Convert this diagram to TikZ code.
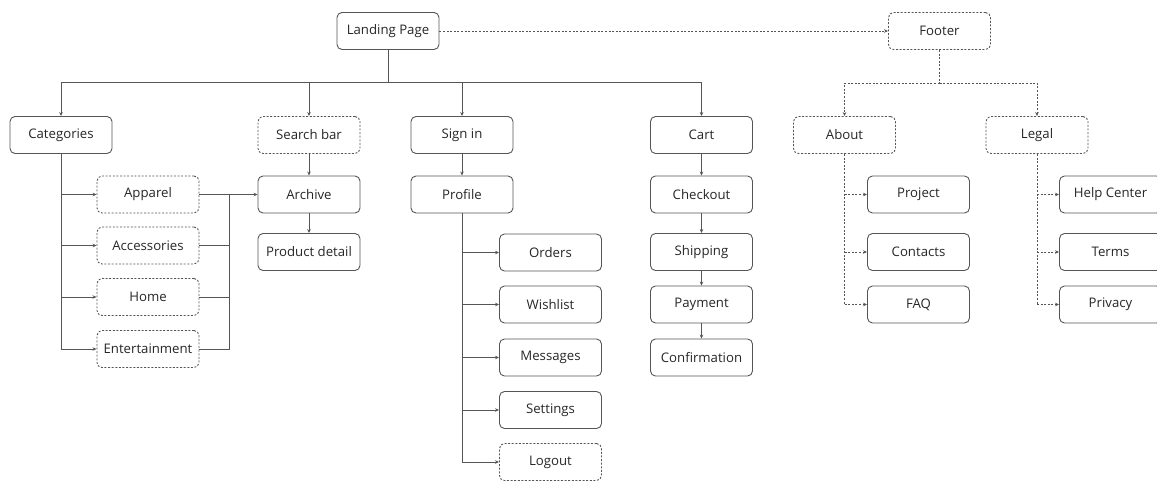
\documentclass[tikz,border=0pt]{standalone}
\usepackage{fontspec}
\setmainfont{Open Sans}
\usetikzlibrary{arrows.meta}
\definecolor{ln}{HTML}{555555}
\definecolor{tx}{HTML}{262626}
\tikzset{
  box/.style={draw=ln, line width=0.9pt, rounded corners=5pt, minimum width=102pt, minimum height=37pt, inner sep=0pt, text=tx, font=\fontsize{13.2}{15}\selectfont},
  dbox/.style={box, dash pattern=on 2pt off 1.6pt},
  conn/.style={draw=ln, line width=0.9pt},
  arr/.style={conn, -{Stealth[length=4pt,width=3.5pt]}},
  darr/.style={arr, dash pattern=on 2pt off 1.6pt},
  dconn/.style={conn, dash pattern=on 2pt off 1.6pt},
}
\begin{document}
\begin{tikzpicture}[x=1pt,y=-1pt]
\useasboundingbox (0,0) rectangle (1157,482);
% top
\node[box] (land) at (388,31) {Landing Page};
\node[dbox] (foot) at (939.5,31) {Footer};
% row 1
\node[box] (cat) at (61,135) {Categories};
\node[dbox] (search) at (309,135) {Search bar};
\node[box] (sign) at (462,135) {Sign in};
\node[box] (cart) at (701.5,135) {Cart};
\node[dbox] (about) at (844.5,135) {About};
\node[dbox] (legal) at (1037,135) {Legal};
% categories
\node[dbox] (app) at (148,194.5) {Apparel};
\node[dbox] (acc) at (148,245.5) {Accessories};
\node[dbox] (home) at (148,297) {Home};
\node[dbox] (ent) at (148,349) {Entertainment};
% search
\node[box] (arch) at (309,194.5) {Archive};
\node[box] (prod) at (309,252) {Product detail};
% sign in
\node[box] (prof) at (462,194.5) {Profile};
\node[box] (ord) at (550.5,252.5) {Orders};
\node[box] (wish) at (550.5,304.5) {Wishlist};
\node[box] (msg) at (550.5,357.5) {Messages};
\node[box] (set) at (550.5,410) {Settings};
\node[dbox] (logout) at (550.5,462) {Logout};
% cart
\node[box] (chk) at (701.5,194.5) {Checkout};
\node[box] (ship) at (701.5,252) {Shipping};
\node[box] (pay) at (701.5,304.5) {Payment};
\node[box] (conf) at (701.5,357.5) {Confirmation};
% about
\node[box] (proj) at (918.5,194.5) {Project};
\node[box] (cont) at (918.5,252) {Contacts};
\node[box] (faq) at (918.5,304.5) {FAQ};
% legal
\node[box] (help) at (1110.5,194.5) {Help Center};
\node[box] (terms) at (1110.5,252) {Terms};
\node[box] (priv) at (1110.5,304.5) {Privacy};

% coordinates
\coordinate (bus) at (388,82);
\coordinate (fbus) at (939.5,83);
\coordinate (catx) at (61,349);
\coordinate (archbus) at (229,194.5);
\coordinate (profx) at (462,462);
\coordinate (aboutx) at (844.5,304.5);
\coordinate (legalx) at (1037,304.5);

% landing page tree
\draw[conn] (land.south) -- (bus);
\draw[arr] (bus) -| (cat.north);
\draw[arr] (bus) -| (search.north);
\draw[arr] (bus) -| (sign.north);
\draw[arr] (bus) -| (cart.north);
\draw[darr] (land.east) -- (foot.west);

% categories
\draw[conn] (cat.south) -- (catx);
\foreach \n in {app,acc,home,ent} \draw[arr] (cat.south |- \n.west) -- (\n.west);
\draw[conn] (archbus) |- (ent.east);
\foreach \n in {app,acc,home} \draw[conn] (\n.east) -- (archbus |- \n.east);
\draw[arr] (archbus) -- (arch.west);
\draw[arr] (search) -- (arch);
\draw[arr] (arch) -- (prod);

% sign in
\draw[arr] (sign) -- (prof);
\draw[conn] (prof.south) -- (profx);
\foreach \n in {ord,wish,msg,set,logout} \draw[arr] (prof.south |- \n.west) -- (\n.west);

% cart
\draw[arr] (cart) -- (chk);
\draw[arr] (chk) -- (ship);
\draw[arr] (ship) -- (pay);
\draw[arr] (pay) -- (conf);

% footer
\draw[dconn] (foot.south) -- (fbus);
\draw[darr] (fbus) -| (about.north);
\draw[darr] (fbus) -| (legal.north);
\draw[dconn] (about.south) -- (aboutx);
\foreach \n in {proj,cont,faq} \draw[darr] (about.south |- \n.west) -- (\n.west);
\draw[dconn] (legal.south) -- (legalx);
\foreach \n in {help,terms,priv} \draw[darr] (legal.south |- \n.west) -- (\n.west);
\end{tikzpicture}
\end{document}
